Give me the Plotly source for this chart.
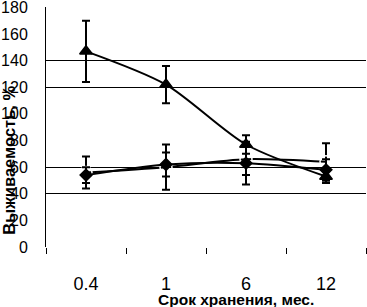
import plotly.graph_objects as go

categories = ["0.4", "1", "6", "12"]

tri_vals = [147, 122, 77, 53]
tri_err = [23, 14, 7, 5]

circ_vals = [56, 60, 66, 64]
circ_err = [12, 17, 12, 14]

diam_vals = [54, 62, 63, 58]
diam_err = [6, 9, 16, 8]

grid_vals = [40, 60, 120, 140]
y_ticks = [0, 20, 40, 60, 80, 100, 120, 140, 160, 180]

FONT = "Liberation Sans, Arial, sans-serif"

fig = go.Figure()

def add_series(vals, err, symbol, size, fill):
    fig.add_trace(go.Scatter(
        x=categories, y=vals, mode="lines+markers",
        line=dict(color="black", width=2, shape="spline", smoothing=0.8),
        marker=dict(symbol=symbol, size=size,
                    color="black" if fill else "white",
                    line=dict(color="black", width=1.5)),
        error_y=dict(type="data", array=err, visible=True,
                     color="black", thickness=2, width=4),
        showlegend=False,
    ))

add_series(circ_vals, circ_err, "circle-open", 12, False)
add_series(diam_vals, diam_err, "diamond", 9, True)
add_series(tri_vals, tri_err, "triangle-up", 11, True)

# invisible trace to activate the grid axis
fig.add_trace(go.Scatter(x=categories, y=[None]*4, yaxis="y2", showlegend=False, hoverinfo="skip"))

fig.update_layout(
    width=367, height=307,
    margin=dict(l=46, r=1, t=7, b=60, autoexpand=False),
    plot_bgcolor="white", paper_bgcolor="white",
    font=dict(family=FONT, color="black"),
    xaxis=dict(
        type="category", range=[-0.5, 3.5], automargin=False,
        showgrid=False, showline=False, zeroline=False,
        ticks="outside", tickson="boundaries", ticklen=6, tickwidth=1, tickcolor="black",
        tickfont=dict(size=18), ticklabelstandoff=24,
    ),
    yaxis=dict(
        range=[0, 180.3], tickvals=y_ticks, automargin=False,
        showgrid=False, zeroline=False,
        showline=True, linecolor="black", linewidth=1,
        ticks="", tickfont=dict(size=16), ticklabelstandoff=14,
        ticklabeloverflow="allow",
    ),
    yaxis2=dict(
        range=[0, 180.3], overlaying="y", tickvals=grid_vals, automargin=False,
        showgrid=True, gridcolor="black", gridwidth=1,
        showticklabels=False, zeroline=False, showline=False, layer="below traces",
    ),
    annotations=[
        dict(text="<b>Срок хранения, мес.</b>", xref="paper", yref="paper",
             x=0.594, y=-0.218, xanchor="center", yanchor="middle",
             showarrow=False, font=dict(size=15.5)),
        dict(text="<b>Выживаемость, %</b>", xref="paper", yref="paper",
             x=-0.118, y=0.36, xanchor="center", yanchor="middle",
             textangle=-90, showarrow=False, font=dict(size=16.5)),
    ],
)

fig.write_html("out.html", config={"displayModeBar": False},
               post_script="document.body.style.margin='0';document.body.style.overflow='hidden';")
